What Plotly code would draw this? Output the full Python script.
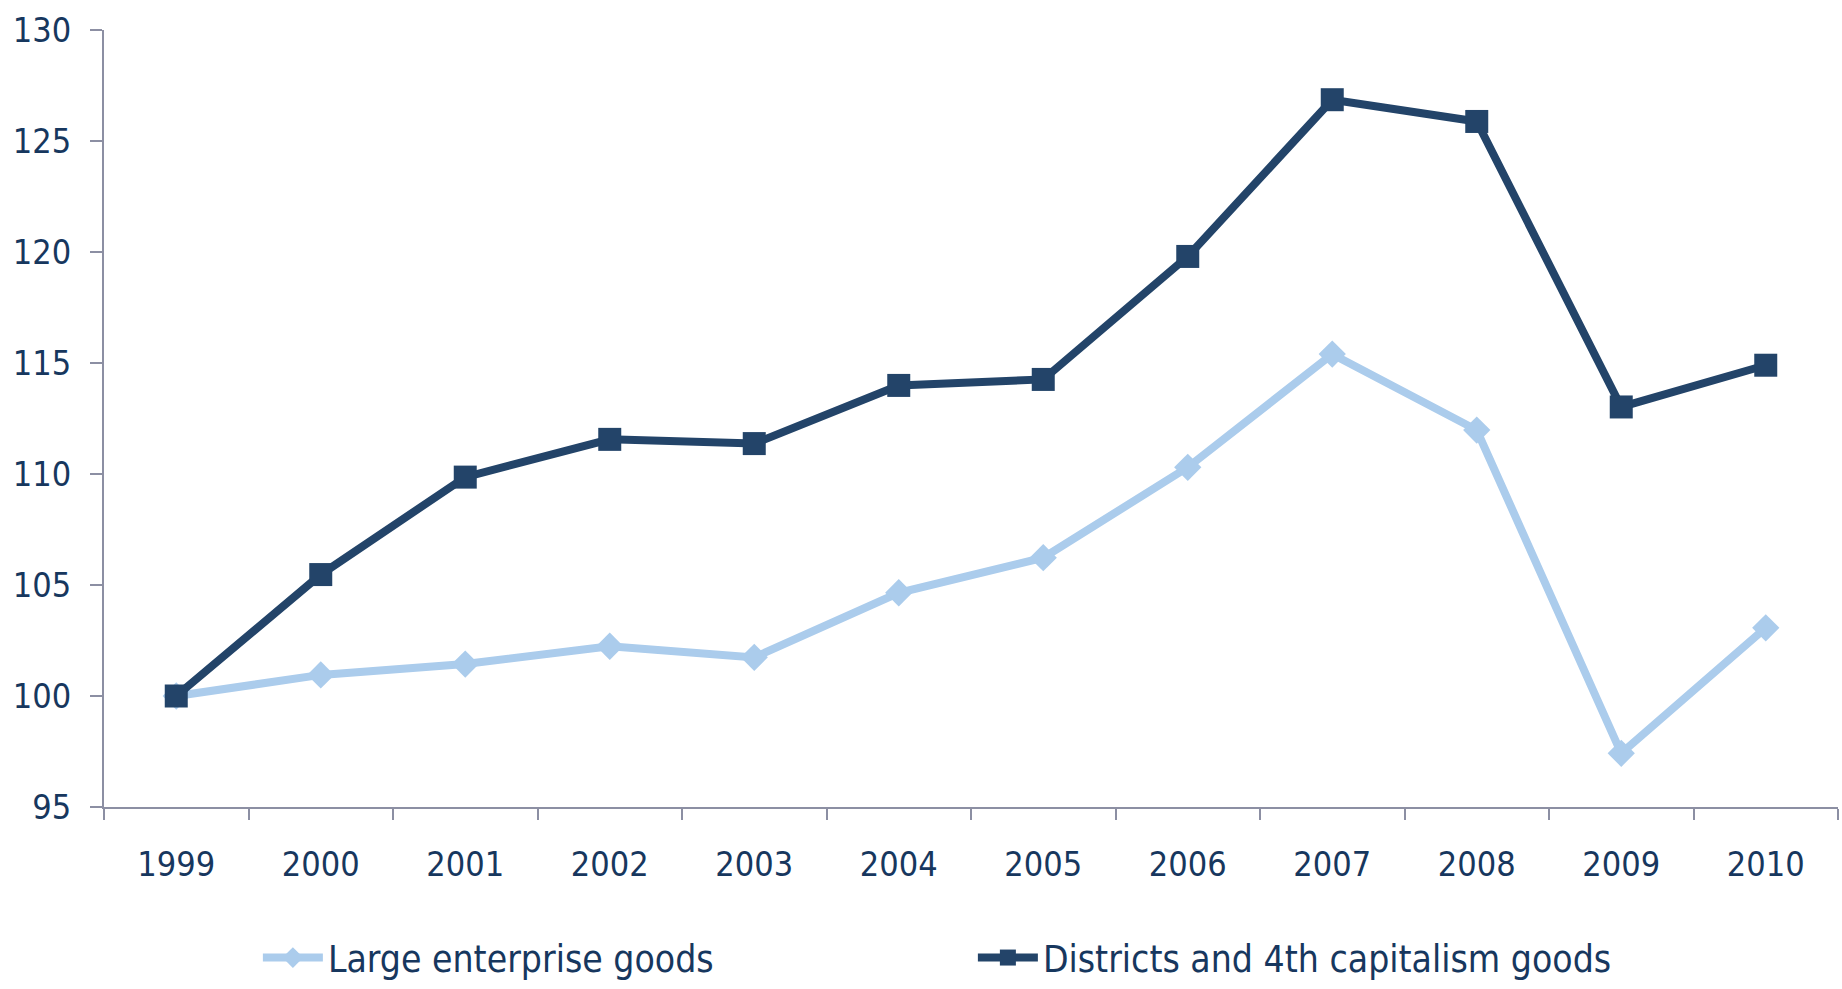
import plotly.graph_objects as go

years = ["1999", "2000", "2001", "2002", "2003", "2004",
         "2005", "2006", "2007", "2008", "2009", "2010"]
large_enterprise = [100.0, 100.95, 101.44, 102.24, 101.74, 104.65,
                    106.23, 110.3, 115.4, 111.98, 97.42, 103.07]
districts_4th_cap = [100.0, 105.47, 109.86, 111.56, 111.37, 113.99,
                     114.26, 119.8, 126.86, 125.88, 113.02, 114.9]

TEXT = "#17375E"
AXIS = "#8C8FA3"
FONT = "DejaVu Sans Condensed, DejaVu Sans, sans-serif"

fig = go.Figure()
fig.add_trace(go.Scatter(
    x=years, y=large_enterprise, name="Large enterprise goods",
    mode="lines+markers",
    line=dict(color="#ABCCEC", width=8),
    marker=dict(symbol="diamond", size=21, color="#ABCCEC"),
))
fig.add_trace(go.Scatter(
    x=years, y=districts_4th_cap, name="Districts and 4th capitalism goods",
    mode="lines+markers",
    line=dict(color="#234469", width=8),
    marker=dict(symbol="square", size=23, color="#234469"),
))

fig.update_layout(
    width=1842, height=989,
    margin=dict(l=104, r=4, t=30, b=182, autoexpand=False),
    paper_bgcolor="white", plot_bgcolor="white",
    font=dict(family=FONT, size=34, color=TEXT),
    showlegend=True,
    legend=dict(
        orientation="h",
        xref="container", x=0.140, xanchor="left",
        yref="container", y=0.0, yanchor="bottom",
        entrywidth=640, entrywidthmode="pixels",
        font=dict(family=FONT, size=37, color=TEXT),
        itemwidth=60, tracegroupgap=0, bgcolor="rgba(0,0,0,0)",
    ),
    xaxis=dict(
        type="category", range=[-0.5, 11.5],
        showline=True, linecolor=AXIS, linewidth=2,
        ticks="outside", tickson="boundaries", ticklen=11,
        tickcolor=AXIS, tickwidth=2,
        showgrid=False, zeroline=False, ticklabelstandoff=26,
    ),
    yaxis=dict(
        range=[95, 130], tickvals=[95, 100, 105, 110, 115, 120, 125, 130],
        showline=True, linecolor=AXIS, linewidth=2,
        ticks="outside", ticklen=12, tickcolor=AXIS, tickwidth=2,
        showgrid=False, zeroline=False, ticklabelstandoff=12,
    ),
)

fig.write_html("out.html")
